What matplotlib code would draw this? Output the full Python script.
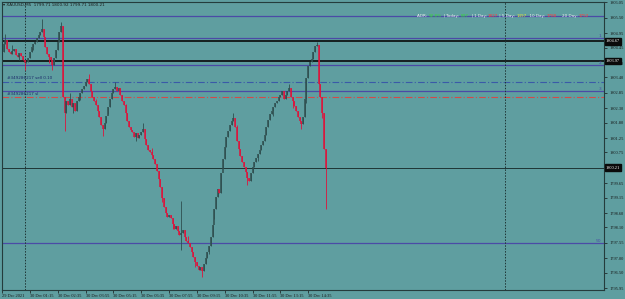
import matplotlib
matplotlib.use("Agg")
import matplotlib.pyplot as plt

# ---------------- data ----------------
closes = [
    1804.58, 1804.72, 1804.41, 1804.30, 1804.23, 1804.34, 1804.41, 1804.20, 1804.13, 1804.27,
    1804.16, 1804.02, 1803.91, 1803.95, 1804.09, 1804.30, 1804.48, 1804.58, 1804.65, 1804.79,
    1804.90, 1805.00, 1805.11, 1804.83, 1804.48, 1804.23, 1804.13, 1804.02, 1803.84, 1804.09,
    1804.37, 1804.65, 1805.00, 1805.21, 1802.72, 1802.13, 1802.55, 1802.41, 1802.62, 1802.34,
    1802.48, 1802.20, 1802.55, 1802.69, 1802.83, 1802.97, 1803.11, 1803.25, 1803.35, 1803.18,
    1802.90, 1802.69, 1802.55, 1802.41, 1802.20, 1801.98, 1801.70, 1801.56, 1801.77, 1802.05,
    1802.34, 1802.62, 1802.83, 1802.97, 1803.07, 1802.90, 1803.04, 1802.76, 1802.58, 1802.41,
    1802.13, 1801.84, 1801.63, 1801.53, 1801.46, 1801.28, 1801.42, 1801.25, 1801.35, 1801.46,
    1801.56, 1801.21, 1801.00, 1800.83, 1800.76, 1800.65, 1800.51, 1800.34, 1800.09, 1799.81,
    1799.53, 1799.14, 1798.83, 1798.62, 1798.48, 1798.55, 1798.41, 1798.23, 1798.05, 1798.16,
    1797.98, 1797.84, 1797.91, 1798.02, 1797.77, 1797.63, 1797.53, 1797.39, 1797.21, 1797.04,
    1796.86, 1796.72, 1796.58, 1796.69, 1796.55, 1796.79, 1797.00, 1797.21, 1797.42, 1797.77,
    1798.19, 1798.76, 1799.18, 1799.46, 1799.30, 1800.02, 1800.51, 1800.93, 1801.28, 1801.49,
    1801.70, 1801.84, 1801.95, 1801.63, 1801.14, 1800.86, 1800.62, 1800.41, 1800.23, 1800.06,
    1799.84, 1799.74, 1800.02, 1800.23, 1800.41, 1800.55, 1800.69, 1800.83, 1801.00, 1801.14,
    1801.35, 1801.63, 1801.88, 1802.09, 1802.20, 1802.34, 1802.48, 1802.58, 1802.69, 1802.76,
    1802.90, 1802.65, 1802.79, 1802.93, 1803.04, 1802.72, 1802.55, 1802.37, 1802.20, 1801.98,
    1801.84, 1801.74, 1801.98, 1802.62, 1803.39, 1803.81, 1803.95, 1804.06, 1804.30, 1804.51,
    1804.55, 1803.18, 1802.72, 1802.13, 1800.86, 1800.21,
]
first_open = 1804.30
wick_highs = {1: 1804.93, 5: 1804.55, 22: 1805.46, 33: 1805.35, 38: 1802.85, 49: 1803.53,
              53: 1802.65, 64: 1803.25, 70: 1802.45, 80: 1801.77, 85: 1800.90, 102: 1799.04,
              106: 1797.80, 132: 1802.13, 134: 1801.70, 164: 1803.18, 180: 1804.65}
wick_lows = {9: 1804.00, 12: 1803.67, 17: 1804.35, 26: 1803.90, 28: 1803.67, 35: 1801.49,
             40: 1802.15, 44: 1802.60, 57: 1801.32, 60: 1802.10, 76: 1801.15, 91: 1799.00,
             97: 1798.05, 102: 1797.28, 110: 1796.70, 114: 1796.34, 118: 1797.15, 121: 1798.40,
             126: 1800.20, 140: 1799.60, 146: 1800.45, 155: 1802.05, 166: 1802.30, 171: 1801.56,
             174: 1802.50, 183: 1801.95, 185: 1798.76}

purple_levels = [1805.56, 1804.79, 1803.83, 1802.90, 1797.53]
purple_tags = ["", "1", "2", "3", "50"]
black_levels = [1804.67, 1803.97]
current_price = 1800.21
sell_level = 1803.25
sl_level = 1802.69

ytick_values = [1795.95, 1796.50, 1797.00, 1797.55, 1798.10, 1798.60, 1799.15, 1799.65,
                1800.75, 1801.25, 1801.80, 1802.30, 1802.85, 1803.40, 1803.90, 1804.45,
                1804.95, 1805.50, 1806.05]
xtick_pos = [-1, 15, 31, 47, 63, 79, 95, 111, 127, 143, 159, 175]
xtick_labels = ["29 Dec 2021", "30 Dec 01:15", "30 Dec 02:35", "30 Dec 03:55", "30 Dec 05:15",
                "30 Dec 06:35", "30 Dec 07:55", "30 Dec 09:15", "30 Dec 10:35", "30 Dec 11:55",
                "30 Dec 13:15", "30 Dec 14:35"]
day_separators = [12, 288]

header = "XAUUSD,M5  1799.71 1800.92 1799.71 1800.21"
adr_parts = [("ADR: ", "#f2f2f2"), ("92.8%", "#33dd33"), ("  | Today: ", "#f2f2f2"), ("837", "#33dd33"),
             ("  | 1 Day: ", "#f2f2f2"), ("1827", "#ff3b3b"), (" | 5 Day: ", "#f2f2f2"), ("1497", "#e8e83a"),
             ("  10 Day: ", "#f2f2f2"), ("1788", "#ff3b3b"), ("    20 Day: ", "#f2f2f2"), ("1752", "#ff3b3b")]

# ---------------- figure ----------------
BG = "#5f9ea0"
W, H = 625, 299
fig = plt.figure(figsize=(W / 100, H / 100), dpi=100, facecolor=BG)
ax = fig.add_axes([2 / W, 9.5 / H, 602 / W, 288 / H])
ax.set_facecolor(BG)
ax.set_xlim(-1, 345)
ax.set_ylim(1795.90, 1806.08)

opens = [first_open] + closes[:-1]
xs = list(range(len(closes)))
highs = [max(o, c) for o, c in zip(opens, closes)]
lows = [min(o, c) for o, c in zip(opens, closes)]
for k, v in wick_highs.items():
    highs[k] = v
for k, v in wick_lows.items():
    lows[k] = v

BULL, BEAR = "#2f4f4f", "#dc143c"
cols = [BULL if c >= o else BEAR for o, c in zip(opens, closes)]

# horizontal lines
for lv, tag in zip(purple_levels, purple_tags):
    ax.axhline(lv, color="#4b4ba6", lw=0.9, zorder=1)
    if tag:
        ax.text(343.5, lv, tag, color="#4b4ba6", fontsize=3.2, ha="right", va="bottom",
                family="DejaVu Sans")
for lv in black_levels:
    ax.axhline(lv, color="#101515", lw=1.3, zorder=1)
ax.axhline(current_price, color="#1e3535", lw=0.7, zorder=1)
ax.axhline(sell_level, color="#3a5aa8", lw=0.8, ls=(0, (6, 2, 1, 2)), zorder=1)
ax.axhline(sl_level, color="#d24a4a", lw=0.8, ls=(0, (6, 2, 1, 2)), zorder=1)
ax.text(2, sell_level + 0.04, "#349286217 sell 0.10", color="#1c2a6a", fontsize=3.0,
        va="bottom", family="DejaVu Sans")
ax.text(2, sl_level + 0.04, "#349286217 sl", color="#1c2a6a", fontsize=3.0,
        va="bottom", family="DejaVu Sans")

for d in day_separators:
    ax.axvline(d, color="#1e3535", lw=0.7, ls=(0, (1.5, 1.5)), zorder=1)

# candles
ax.vlines(xs, lows, highs, colors=cols, lw=0.6, zorder=3)
ax.vlines(xs, [min(o, c) for o, c in zip(opens, closes)],
          [max(o, c) for o, c in zip(opens, closes)], colors=cols, lw=1.1, zorder=3)

# axes styling
for s in ax.spines.values():
    s.set_color("#243c3c")
    s.set_linewidth(0.8)
ax.yaxis.tick_right()
ax.set_yticks(ytick_values)
ax.set_yticklabels([f"{v:.2f}" for v in ytick_values], fontsize=3.2, family="Liberation Serif",
                   color="#151515")
ax.tick_params(axis="y", length=2, width=0.5, pad=2, colors="#151515")
ax.set_xticks(xtick_pos)
ax.set_xticklabels(xtick_labels, fontsize=3.2, family="Liberation Serif", color="#151515",
                   ha="left")
ax.tick_params(axis="x", length=2, width=0.5, pad=1.5, colors="#151515")

# price boxes
for lv in black_levels + [current_price]:
    ax.annotate(f"{lv:.2f}", xy=(1.0, lv), xycoords=("axes fraction", "data"),
                xytext=(1.5, 0), textcoords="offset points", ha="left", va="center",
                fontsize=3.2, family="Liberation Serif", color="white",
                bbox=dict(boxstyle="square,pad=0.25", fc="#0a0a0a", ec="#0a0a0a"))

# header text
fig.text(3 / W, 1 - 5 / H, "\u25be " + header, fontsize=3.0, color="#1a1a1a",
         family="DejaVu Sans", va="center")

# ADR text
xpix = 417
renderer = fig.canvas.get_renderer()
for txt, c in adr_parts:
    t = fig.text(xpix / W, 1 - 16 / H, txt, fontsize=3.0, color=c, family="DejaVu Sans",
                 va="center")
    bb = t.get_window_extent(renderer=renderer)
    xpix += bb.width

fig.savefig("out.png", dpi=100, facecolor=BG)
